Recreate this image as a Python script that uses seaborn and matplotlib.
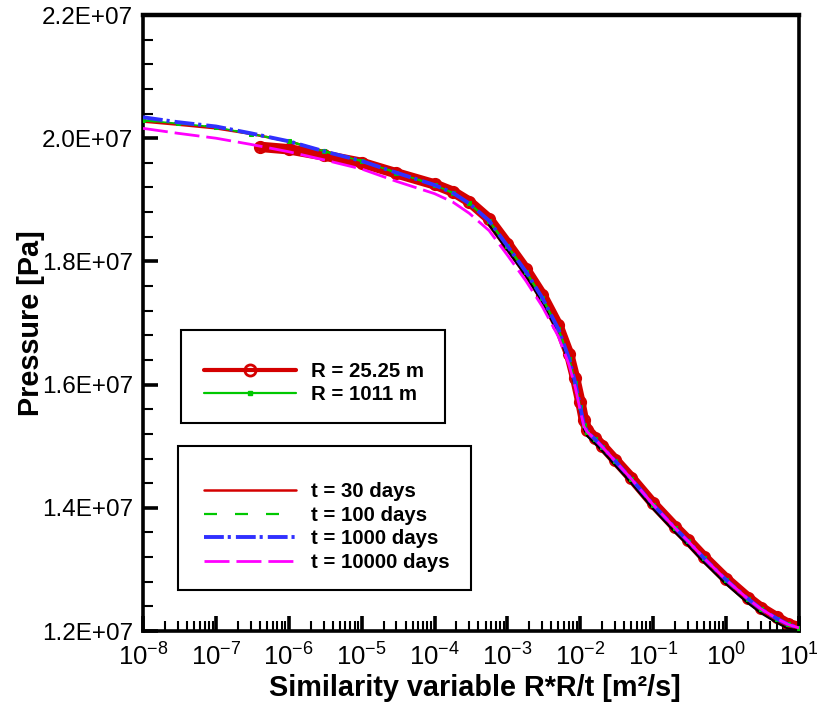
import numpy as np
import pandas as pd
import matplotlib
matplotlib.use("Agg")
import matplotlib.pyplot as plt
from matplotlib.lines import Line2D
from matplotlib.patches import Rectangle
from matplotlib.ticker import FuncFormatter, LogLocator, MultipleLocator, NullFormatter
import seaborn as sns

sns.set_theme(style="ticks")
plt.rcParams['font.family'] = ['Liberation Sans', 'DejaVu Sans']
plt.rcParams['mathtext.fontset'] = 'custom'
plt.rcParams['mathtext.rm'] = 'Liberation Sans'
plt.rcParams['mathtext.it'] = 'Liberation Sans:italic'
plt.rcParams['mathtext.bf'] = 'Liberation Sans:bold'

# ---------------- data ----------------
X = [1e-8, 3e-8, 1e-7, 3e-7, 1e-6, 3e-6, 1e-5, 3e-5, 1e-4, 1.8e-4, 3e-4, 5.6e-4,
     1e-3, 1.8e-3, 3e-3, 5e-3, 7e-3, 8.5e-3, 1e-2, 1.12e-2, 1.25e-2, 1.6e-2, 2e-2,
     3e-2, 5e-2, 1e-1, 2e-1, 3e-1, 5e-1, 1, 2, 3, 5, 7, 10]

P_T30 = [2.027e7, 2.022e7, 2.016e7, 2.007e7, 1.995e7, 1.979e7, 1.963e7, 1.944e7,
         1.924e7, 1.911e7, 1.894e7, 1.866e7, 1.825e7, 1.783e7, 1.741e7, 1.690e7,
         1.642e7, 1.603e7, 1.563e7, 1.535e7, 1.523e7, 1.511e7, 1.499e7, 1.476e7,
         1.447e7, 1.405e7, 1.367e7, 1.346e7, 1.318e7, 1.283e7, 1.252e7, 1.236e7,
         1.220e7, 1.211e7, 1.205e7]
P_T100 = [2.029e7, 2.024e7, 2.018e7, 2.007e7, 1.995e7, 1.979e7, 1.963e7, 1.944e7,
          1.924e7, 1.911e7, 1.894e7, 1.866e7, 1.825e7, 1.783e7, 1.741e7, 1.690e7,
          1.642e7, 1.603e7, 1.563e7, 1.535e7, 1.523e7, 1.511e7, 1.499e7, 1.476e7,
          1.447e7, 1.405e7, 1.367e7, 1.346e7, 1.318e7, 1.283e7, 1.252e7, 1.236e7,
          1.220e7, 1.211e7, 1.205e7]
P_T1000 = [2.034e7, 2.026e7, 2.019e7, 2.008e7, 1.995e7, 1.979e7, 1.963e7, 1.944e7,
           1.924e7, 1.911e7, 1.894e7, 1.866e7, 1.825e7, 1.783e7, 1.741e7, 1.690e7,
           1.642e7, 1.603e7, 1.563e7, 1.535e7, 1.523e7, 1.511e7, 1.499e7, 1.476e7,
           1.447e7, 1.405e7, 1.367e7, 1.346e7, 1.318e7, 1.283e7, 1.252e7, 1.236e7,
           1.220e7, 1.211e7, 1.205e7]
P_T10000 = [2.016e7, 2.008e7, 2.000e7, 1.990e7, 1.978e7, 1.965e7, 1.950e7, 1.930e7,
            1.910e7, 1.896e7, 1.878e7, 1.850e7, 1.810e7, 1.768e7, 1.727e7, 1.678e7,
            1.632e7, 1.596e7, 1.557e7, 1.532e7, 1.523e7, 1.511e7, 1.499e7, 1.476e7,
            1.447e7, 1.405e7, 1.367e7, 1.346e7, 1.318e7, 1.283e7, 1.252e7, 1.236e7,
            1.220e7, 1.211e7, 1.205e7]
P_R1011 = [2.029e7, 2.024e7, 2.018e7, 2.007e7, 1.995e7, 1.979e7, 1.963e7, 1.944e7,
           1.924e7, 1.911e7, 1.894e7, 1.866e7, 1.825e7, 1.783e7, 1.741e7, 1.690e7,
           1.642e7, 1.603e7, 1.563e7, 1.535e7, 1.523e7, 1.511e7, 1.499e7, 1.476e7,
           1.447e7, 1.405e7, 1.367e7, 1.346e7, 1.318e7, 1.283e7, 1.252e7, 1.236e7,
           1.220e7, 1.211e7, 1.205e7]

X_R25 = [4e-7, 1e-6, 3e-6, 1e-5, 3e-5, 1e-4, 1.8e-4, 3e-4, 5.6e-4, 1e-3, 1.8e-3,
         3e-3, 5e-3, 7e-3, 8.5e-3, 1e-2, 1.12e-2, 1.25e-2, 1.6e-2, 2e-2, 3e-2, 5e-2,
         1e-1, 2e-1, 3e-1, 5e-1, 1, 2, 3, 5, 7, 10]
P_R25 = [1.986e7, 1.982e7, 1.972e7, 1.960e7, 1.943e7, 1.925e7, 1.913e7, 1.897e7,
         1.869e7, 1.829e7, 1.787e7, 1.746e7, 1.696e7, 1.650e7, 1.610e7, 1.572e7,
         1.542e7, 1.527e7, 1.513e7, 1.501e7, 1.478e7, 1.449e7, 1.407e7, 1.369e7,
         1.348e7, 1.320e7, 1.285e7, 1.254e7, 1.238e7, 1.222e7, 1.212e7, 1.206e7]

X_BLACK = [5.6e-4, 1e-3, 1.8e-3, 3e-3, 5e-3, 7e-3, 8.5e-3, 1e-2, 1.12e-2, 1.25e-2,
           1.6e-2, 2e-2, 3e-2, 5e-2, 1e-1, 2e-1, 3e-1, 5e-1, 1, 2, 3, 5, 7, 10]
P_BLACK = [1.859e7, 1.818e7, 1.776e7, 1.734e7, 1.683e7, 1.635e7, 1.596e7, 1.556e7,
           1.528e7, 1.516e7, 1.504e7, 1.492e7, 1.469e7, 1.440e7, 1.398e7, 1.360e7,
           1.339e7, 1.311e7, 1.276e7, 1.245e7, 1.229e7, 1.213e7, 1.204e7, 1.201e7]

LEG1_LABELS = ["R = 25.25 m", "R = 1011 m"]
LEG2_LABELS = ["t = 30 days", "t = 100 days", "t = 1000 days", "t = 10000 days"]
Y_TICKS = [1.2e7, 1.4e7, 1.6e7, 1.8e7, 2.0e7, 2.2e7]

RED = "#D40000"
GREEN = "#00C800"
BLUE = "#3030FF"
MAGENTA = "#FF00FF"

# ---------------- figure ----------------
W, H = 817, 710
fig = plt.figure(figsize=(W / 100, H / 100), dpi=100)
L, R, T, B = 143, 799, 15, 631
ax = fig.add_axes([L / W, 1 - B / H, (R - L) / W, (B - T) / H])
ax.set_xscale("log")

common = dict(ax=ax, estimator=None, sort=False, legend=False)
sns.lineplot(x=X_R25, y=P_R25, color=RED, linewidth=7.5, marker="o", markersize=8,
             markerfacecolor="none", markeredgecolor=RED, markeredgewidth=1.5,
             zorder=2, **common)
sns.lineplot(x=X_BLACK, y=P_BLACK, color="black", linewidth=1.5, zorder=3, **common)
sns.lineplot(x=X, y=P_T30, color=RED, linewidth=1.8, zorder=4, **common)
sns.lineplot(x=X, y=P_T100, color=GREEN, linewidth=1.6, linestyle=(0, (5.85, 8.1)),
             zorder=5, **common)
sns.lineplot(x=X, y=P_R1011, color=GREEN, linewidth=1.2, marker="s", markersize=2.5,
             markeredgecolor=GREEN, markerfacecolor=GREEN, zorder=5, **common)
sns.lineplot(x=X, y=P_T1000, color=BLUE, linewidth=2.8,
             linestyle=(0, (5.1, 1.0, 0.8, 1.3)), zorder=6, **common)
sns.lineplot(x=X, y=P_T10000, color=MAGENTA, linewidth=2.0,
             linestyle=(0, (9, 2.5)), zorder=7, **common)

ax.set_xlim(1e-8, 1e1)
ax.set_ylim(1.2e7, 2.2e7)

ax.xaxis.set_major_locator(LogLocator(base=10, numticks=20))
ax.xaxis.set_minor_locator(LogLocator(base=10, subs=np.arange(2, 10), numticks=200))
ax.xaxis.set_minor_formatter(NullFormatter())
ax.xaxis.set_major_formatter(FuncFormatter(
    lambda v, p: r"$\mathregular{10^{%d}}$" % int(round(np.log10(v)))))
ax.set_yticks(Y_TICKS)
ax.yaxis.set_minor_locator(MultipleLocator(4e5))
ax.yaxis.set_major_formatter(FuncFormatter(lambda v, p: "{:.1E}".format(v)))

ax.tick_params(which="major", direction="in", length=10.5, width=2.6,
               labelsize=17.5, pad=7, bottom=True, left=True, top=False, right=False,
               colors="black")
ax.tick_params(which="minor", direction="in", length=7, width=1.5,
               bottom=True, left=True, top=False, right=False, colors="black")
ax.tick_params(axis="x", which="major", pad=9, labelsize=18.5)

for s in ax.spines.values():
    s.set_linewidth(2.6)
    s.set_color("black")
ax.spines["top"].set_linewidth(3.2)

ax.set_xlabel("Similarity variable R*R/t [m²/s]", fontsize=20.8, fontweight="bold",
              color="black")
ax.set_ylabel("Pressure [Pa]", fontsize=20.8, fontweight="bold", color="black")
ax.xaxis.set_label_coords(0.506, -0.070)
ax.yaxis.set_label_coords(-0.150, 0.5)

# ---------------- legends ----------------
h1 = [Line2D([], [], color=RED, lw=3, marker="o", ms=8, mfc="none", mec=RED, mew=2),
      Line2D([], [], color=GREEN, lw=1.6, marker="s", ms=3, mfc=GREEN, mec=GREEN)]
h2 = [Line2D([], [], color=RED, lw=1.8),
      Line2D([], [], color=GREEN, lw=1.6, linestyle=(0, (5.85, 8.1))),
      Line2D([], [], color=BLUE, lw=2.8, linestyle=(0, (5.1, 1.0, 0.8, 1.3))),
      Line2D([], [], color=MAGENTA, lw=2.0, linestyle=(0, (9, 2.5)))]
lp = dict(frameon=False, borderpad=0, borderaxespad=0, handlelength=4.5,
          handletextpad=0.72, labelspacing=0.22, loc="center left",
          prop={"family": "Liberation Sans", "weight": "bold", "size": 14.7})

def box(x0, x1, y0, y1):
    ax.add_patch(Rectangle(((x0 - L) / (R - L), (B - y1) / (B - T)),
                           (x1 - x0) / (R - L), (y1 - y0) / (B - T),
                           transform=ax.transAxes, fill=False, lw=1.5,
                           edgecolor="black", zorder=10))

box(181, 445, 330, 423)
box(178, 471, 446, 590)
leg1 = ax.legend(h1, LEG1_LABELS, bbox_to_anchor=((204 - L) / (R - L), (B - 383) / (B - T)), **lp)
ax.add_artist(leg1)
leg2 = ax.legend(h2, LEG2_LABELS, bbox_to_anchor=((204 - L) / (R - L), (B - 527) / (B - T)), **lp)
for lg in (leg1, leg2):
    for t in lg.get_texts():
        t.set_color("black")

fig.savefig("out.png", dpi=100, facecolor="white")
